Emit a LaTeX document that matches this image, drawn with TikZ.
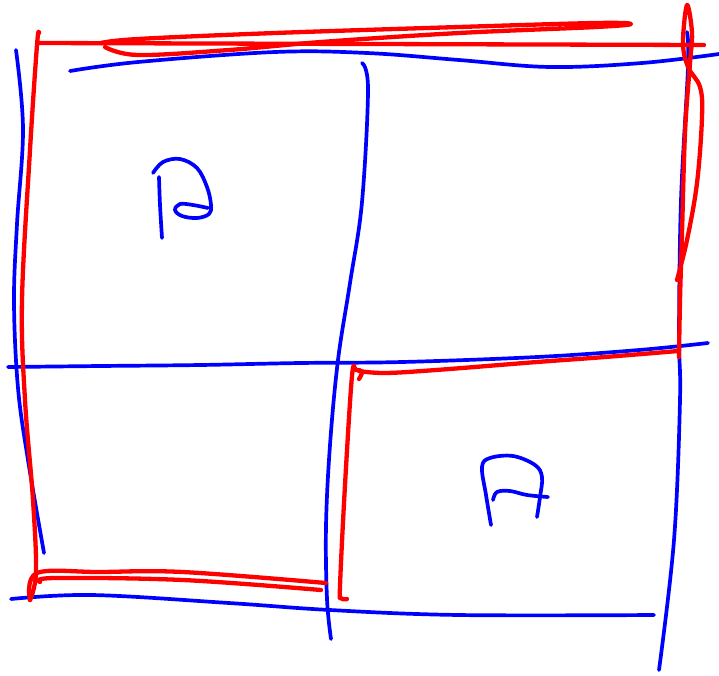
\documentclass[tikz,border=0pt]{standalone}
\begin{document}
\begin{tikzpicture}[x=1pt,y=-1pt,
  bluepen/.style={draw=blue, line width=3.7pt, line cap=round, line join=round},
  redpen/.style={draw=red, line width=4.3pt, line cap=round, line join=round}]
\useasboundingbox (0,0) rectangle (719,675);
% ---- blue grid ----
\draw[bluepen] plot[smooth, tension=0.6] coordinates {(16,50) (23,129) (17,224) (14,302) (18,388) (28,460) (44,553)};
\draw[bluepen] plot[smooth, tension=0.6] coordinates {(70,71) (138,62) (275,52) (367,53) (459,60) (550,67) (642,63) (719,54)};
\draw[bluepen] plot[smooth, tension=0.6] coordinates {(687,32) (688,67) (681,200) (679,333) (680,400) (674,540) (659,670)};
\draw[bluepen] plot[smooth, tension=0.6] coordinates {(8,367) (100,366) (200,365) (300,363) (402,362) (537,357) (639,350) (708,343)};
\draw[bluepen] plot[smooth, tension=0.6] coordinates {(362,63) (368,89) (362,202) (350,283) (338,360) (330,445) (326,526) (327,599) (331,639)};
\draw[bluepen] plot[smooth, tension=0.6] coordinates {(11,599) (92,595) (229,603) (330,610) (459,615) (654,615)};
% ---- red outline ----
\draw[redpen] plot[smooth, tension=0.6] coordinates {(39,33) (37,45) (30,150) (22,300) (25,400) (33,500) (36,572) (30,600)};
\draw[redpen] (39,43) -- (704,45);
\draw[redpen] plot[smooth, tension=0.6] coordinates {(101,43) (138,39) (275,33) (459,27) (596,23) (631,24) (596,27) (459,33) (321,42) (229,50) (138,55) (105,47)};
\draw[redpen] plot[smooth, tension=0.6] coordinates {(679,357) (680,300) (682,233) (685,133) (690,63) (692,33) (687,5) (683,43) (688,67) (700,87) (702,117) (697,183) (687,240) (677,280)};
\draw[redpen] plot[smooth, tension=0.6] coordinates {(30,600) (37,573) (100,572) (183,572) (326,583)};
\draw[redpen] plot[smooth, tension=0.6] coordinates {(40,582) (55,578) (183,580) (321,590)};
\draw[redpen] plot[smooth, tension=0.6] coordinates {(347,599) (341,598) (340,586) (345,485) (352,376) (356,370) (362,372) (359,379)};
\draw[redpen] plot[smooth, tension=0.6] coordinates {(359,371) (385,373) (436,370) (537,362) (605,357) (678,351)};
% ---- glyphs ----
\draw[bluepen] plot[smooth, tension=0.6] coordinates {(159,177) (160,205) (162,238)};
\draw[bluepen] plot[smooth, tension=0.6] coordinates {(153,173) (163,162) (180,159) (197,168) (207,187) (211,205) (209,214) (197,218) (182,216) (175,210) (180,204) (193,205) (208,208)};
\draw[bluepen] plot[smooth, tension=0.6] coordinates {(491,525) (486,495) (482,467) (490,458) (513,456) (535,465) (542,477) (540,497) (537,517)};
\draw[bluepen] plot[smooth, tension=0.6] coordinates {(493,500) (497,492) (510,491) (527,495) (548,497)};
\end{tikzpicture}
\end{document}
